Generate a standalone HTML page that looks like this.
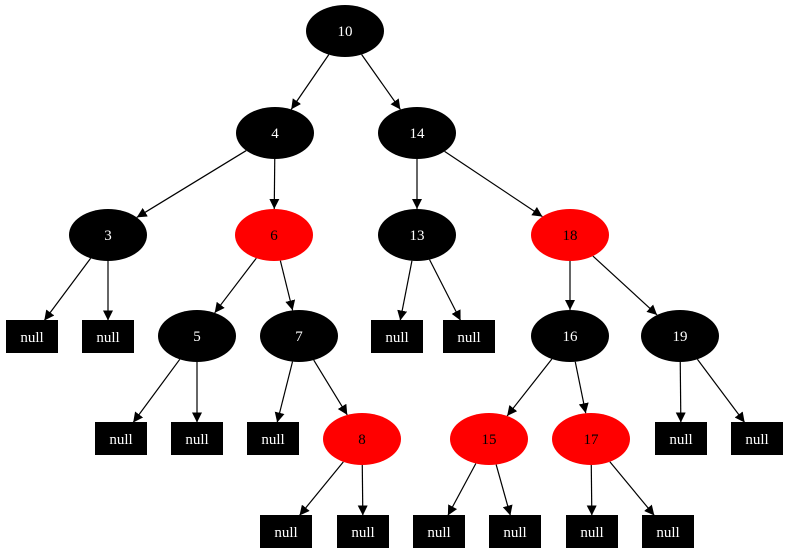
<!DOCTYPE html>
<html><head><meta charset="utf-8"><style>
html,body{margin:0;padding:0;background:#fff;}
svg{display:block;}
text{font-family:"Liberation Serif",serif;font-size:15px;text-anchor:middle;}
</style></head><body>
<svg id="s" width="789" height="556" viewBox="0 0 789 556" xmlns="http://www.w3.org/2000/svg">
<defs><marker id="a" viewBox="0 0 10 10" refX="10" refY="5" markerWidth="10" markerHeight="10" markerUnits="userSpaceOnUse" orient="auto"><path d="M0,0 L10,5 L0,10 z" fill="#000"/></marker></defs>
<g id="edges" stroke="#000" stroke-width="1.2" fill="none"></g>
<g id="nodes">
<ellipse cx="345" cy="31" rx="39" ry="26" fill="#000"/><text x="345" y="36" fill="#fff">10</text>
<ellipse cx="275" cy="133" rx="39" ry="26" fill="#000"/><text x="275" y="138" fill="#fff">4</text>
<ellipse cx="417" cy="133" rx="39" ry="26" fill="#000"/><text x="417" y="138" fill="#fff">14</text>
<ellipse cx="108" cy="235" rx="39" ry="26" fill="#000"/><text x="108" y="240" fill="#fff">3</text>
<ellipse cx="274" cy="235" rx="39" ry="26" fill="#f00"/><text x="274" y="240" fill="#000">6</text>
<ellipse cx="417" cy="235" rx="39" ry="26" fill="#000"/><text x="417" y="240" fill="#fff">13</text>
<ellipse cx="570" cy="235" rx="39" ry="26" fill="#f00"/><text x="570" y="240" fill="#000">18</text>
<ellipse cx="197" cy="336" rx="39" ry="26" fill="#000"/><text x="197" y="341" fill="#fff">5</text>
<ellipse cx="299" cy="336" rx="39" ry="26" fill="#000"/><text x="299" y="341" fill="#fff">7</text>
<ellipse cx="570" cy="336" rx="39" ry="26" fill="#000"/><text x="570" y="341" fill="#fff">16</text>
<ellipse cx="680" cy="336" rx="39" ry="26" fill="#000"/><text x="680" y="341" fill="#fff">19</text>
<ellipse cx="362" cy="439" rx="39" ry="26" fill="#f00"/><text x="362" y="444" fill="#000">8</text>
<ellipse cx="489" cy="439" rx="39" ry="26" fill="#f00"/><text x="489" y="444" fill="#000">15</text>
<ellipse cx="591" cy="439" rx="39" ry="26" fill="#f00"/><text x="591" y="444" fill="#000">17</text>
<rect x="6" y="320" width="52" height="33" fill="#000"/><text x="32" y="342" fill="#fff">null</text>
<rect x="82" y="320" width="52" height="33" fill="#000"/><text x="108" y="342" fill="#fff">null</text>
<rect x="371" y="320" width="52" height="33" fill="#000"/><text x="397" y="342" fill="#fff">null</text>
<rect x="443" y="320" width="52" height="33" fill="#000"/><text x="469" y="342" fill="#fff">null</text>
<rect x="95" y="422" width="52" height="33" fill="#000"/><text x="121" y="444" fill="#fff">null</text>
<rect x="171" y="422" width="52" height="33" fill="#000"/><text x="197" y="444" fill="#fff">null</text>
<rect x="247" y="422" width="52" height="33" fill="#000"/><text x="273" y="444" fill="#fff">null</text>
<rect x="655" y="422" width="52" height="33" fill="#000"/><text x="681" y="444" fill="#fff">null</text>
<rect x="731" y="422" width="52" height="33" fill="#000"/><text x="757" y="444" fill="#fff">null</text>
<rect x="260" y="515" width="52" height="33" fill="#000"/><text x="286" y="537" fill="#fff">null</text>
<rect x="337" y="515" width="52" height="33" fill="#000"/><text x="363" y="537" fill="#fff">null</text>
<rect x="413" y="515" width="52" height="33" fill="#000"/><text x="439" y="537" fill="#fff">null</text>
<rect x="489" y="515" width="52" height="33" fill="#000"/><text x="515" y="537" fill="#fff">null</text>
<rect x="566" y="515" width="52" height="33" fill="#000"/><text x="592" y="537" fill="#fff">null</text>
<rect x="642" y="515" width="52" height="33" fill="#000"/><text x="668" y="537" fill="#fff">null</text>
</g>
</svg>
<script>
(function(){
var E=function(x,y){return{t:'e',x:x,y:y}},B=function(x,y){return{t:'b',x:x,y:y}};
var n={10:E(345,31),4:E(275,133),14:E(417,133),3:E(108,235),6:E(274,235),13:E(417,235),18:E(570,235),
5:E(197,336),7:E(299,336),16:E(570,336),19:E(680,336),8:E(362,439),15:E(489,439),17:E(591,439),
a:B(32,337),b:B(108,337),c:B(397,337),d:B(469,337),e:B(121,439),f:B(197,439),g:B(273,439),h:B(681,439),i:B(757,439),
j:B(286,532),k:B(363,532),l:B(439,532),m:B(515,532),o:B(592,532),p:B(668,532)};
var ed=[[10,4],[10,14],[4,3],[4,6],[14,13],[14,18],[3,'a'],[3,'b'],[6,5],[6,7],[13,'c'],[13,'d'],[18,16],[18,19],
[5,'e'],[5,'f'],[7,'g'],[7,8],[16,15],[16,17],[19,'h'],[19,'i'],[8,'j'],[8,'k'],[15,'l'],[15,'m'],[17,'o'],[17,'p']];
function bd(N,dx,dy){ // distance along unit dir to boundary
 if(N.t=='e'){return 1/Math.sqrt((dx*dx)/(39*39)+(dy*dy)/(26*26));}
 var tx=dx?26/Math.abs(dx):1e9,ty=dy?16.5/Math.abs(dy):1e9;return Math.min(tx,ty);}
var g=document.getElementById('edges'),s='';
ed.forEach(function(e){var A=n[e[0]],C=n[e[1]];var dx=C.x-A.x,dy=C.y-A.y,L=Math.sqrt(dx*dx+dy*dy);dx/=L;dy/=L;
 var a=bd(A,dx,dy),c=bd(C,dx,dy);
 s+='<line x1="'+(A.x+dx*a)+'" y1="'+(A.y+dy*a)+'" x2="'+(C.x-dx*c)+'" y2="'+(C.y-dy*c)+'" marker-end="url(#a)"/>';});
g.innerHTML=s;})();
</script>
</body></html>
